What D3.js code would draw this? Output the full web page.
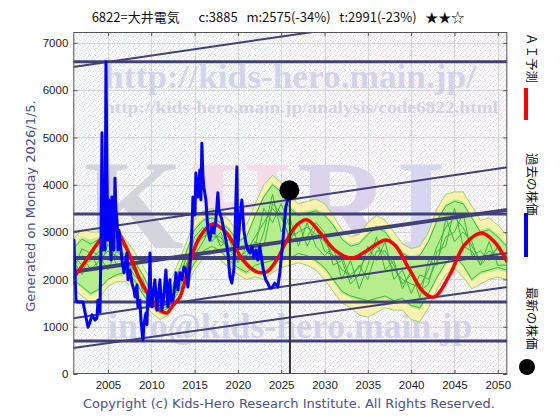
<!DOCTYPE html>
<html>
<head>
<meta charset="utf-8">
<script src="https://cdn.jsdelivr.net/npm/d3@7"></script>
<style>
  body { margin: 0; background: #fff; }
  text { white-space: pre; }
</style>
</head>
<body>
<div class="canvas"></div>
<script>
// ---- data ----
const titleText = '6822=大井電気\u3000  c:3885   m:2575(-34%)   t:2991(-23%)   ★★☆';
const yTicks = [0, 1000, 2000, 3000, 4000, 5000, 6000, 7000];
const xTicks = [2005, 2010, 2015, 2020, 2025, 2030, 2035, 2040, 2045, 2050];

// past price (blue)
const priceYears = [2001.02, 2001.08, 2001.2, 2001.31, 2001.54, 2002.12, 2002.7, 2002.93, 2003.16, 2003.5,
  2003.73, 2003.85, 2004.08, 2004.19, 2004.31, 2004.42, 2004.54, 2004.66, 2004.77, 2004.89,
  2005.0, 2005.12, 2005.23, 2005.35, 2005.46, 2005.58, 2005.69, 2005.81, 2005.92, 2006.04,
  2006.16, 2006.27, 2006.39, 2006.62, 2006.85, 2007.08, 2007.19, 2007.31, 2007.54, 2007.77,
  2008.0, 2008.12, 2008.35, 2008.46, 2008.69, 2008.81, 2008.92, 2009.04, 2009.15, 2009.39,
  2009.5, 2009.62, 2009.73, 2009.85, 2009.96, 2010.08, 2010.19, 2010.42, 2010.65, 2010.77,
  2011.0, 2011.23, 2011.46, 2011.69, 2011.92, 2012.15, 2012.27, 2012.5, 2012.73, 2012.85,
  2013.08, 2013.31, 2013.54, 2013.77, 2014.0, 2014.23, 2014.46, 2014.69, 2014.81, 2015.04,
  2015.15, 2015.38, 2015.61, 2015.73, 2015.84, 2015.96, 2016.07, 2016.31, 2016.42, 2016.54,
  2016.77, 2017.0, 2017.23, 2017.46, 2017.69, 2017.81, 2017.92, 2018.15, 2018.38, 2018.62,
  2018.85, 2019.08, 2019.3, 2019.53, 2019.65, 2019.77, 2019.88, 2020.0, 2020.23, 2020.46,
  2020.69, 2020.92, 2021.15, 2021.38, 2021.61, 2021.84, 2022.07, 2022.3, 2022.53, 2022.76,
  2022.99, 2023.22, 2023.45, 2023.68, 2023.92, 2024.26, 2024.61, 2024.84, 2025.07, 2025.3,
  2025.53, 2025.76, 2025.94];
const priceValues = [1880, 2830, 2090, 1560, 1520, 1520, 990, 1100, 1250, 1140,
  1180, 1560, 1310, 2620, 5100, 2620, 3680, 2620, 6600, 4250,
  2830, 3680, 3110, 2410, 3740, 3110, 2620, 4140, 3470, 3260,
  2620, 3040, 2830, 2410, 2140, 2410, 2560, 1990, 2200, 1920,
  1780, 1630, 1880, 1420, 1560, 1140, 930, 720, 1040, 1290,
  1040, 1710, 1460, 2560, 1560, 1420, 1670, 1990, 1350, 1560,
  1990, 1350, 1670, 2200, 1420, 1990, 1560, 1560, 1880, 2140,
  1780, 2140, 1990, 2260, 2200, 1840, 2260, 3040, 3740, 3360,
  4250, 3740, 4310, 3680, 4880, 4210, 3950, 3680, 3360, 3040,
  2830, 3110, 2980, 3260, 3830, 3470, 3400, 3260, 3040, 2830,
  2560, 2050, 1920, 2200, 2830, 3680, 4380, 2690, 3260, 3680,
  3040, 2770, 2620, 2560, 2690, 2470, 2620, 2410, 2690, 2410,
  2140, 1990, 1920, 1820, 1820, 1920, 1840, 2140, 2560, 3040,
  3530, 3680, 3885];

const latestYear = 2025.94;
const latestPrice = 3885;
const todayYear = 2026.01;

// AI forecast (red)
const predYears = [2001.0, 2002.35, 2004.08, 2005.58, 2006.96, 2008.69, 2009.85, 2011.0, 2011.81, 2012.38,
  2013.31, 2014.46, 2015.61, 2017.1, 2018.7, 2020.57, 2022.18, 2023.34, 2024.61, 2025.65,
  2026.8, 2027.95, 2029.45, 2031.18, 2033.14, 2034.64, 2036.95, 2038.1, 2039.83, 2041.56,
  2042.71, 2044.44, 2046.17, 2048.13, 2049.63, 2051.1];
const predValues = [2030, 2370, 2830, 3110, 2730, 1990, 1630, 1350, 1290, 1420,
  1630, 2370, 2900, 3170, 2980, 2410, 2160, 2160, 2450, 2830,
  3150, 3260, 3000, 2620, 2450, 2580, 2830, 2730, 2200, 1710,
  1630, 2090, 2730, 2980, 2790, 2370];

// pattern band, one value per year 2001..2051
const bandYears = d3.range(2001, 2052);
const yellowHigh = [2850, 3050, 3000, 3000, 3150, 3050, 2850, 2600, 2300, 1950,
  1750, 1850, 2300, 2750, 3250, 3450, 3500, 3400, 3250, 3000,
  3150, 3600, 4000, 4200, 4050, 3750, 3600, 3650, 3700, 3600,
  3350, 3050, 2900, 2950, 3200, 3350, 3250, 3000, 2750, 2650,
  2700, 3000, 3500, 3800, 3850, 3850, 3550, 3250, 3300, 3150, 2950];
const yellowLow = [1800, 1650, 1500, 1600, 1850, 1950, 1950, 1800, 1550, 1300,
  1150, 1250, 1550, 1850, 2200, 2450, 2550, 2400, 2250, 2100,
  2000, 2050, 2000, 2150, 2250, 2300, 2350, 2300, 2200, 2000,
  1750, 1500, 1400, 1250, 1200, 1300, 1400, 1350, 1350, 1150,
  1100, 1400, 1800, 2100, 2250, 2050, 1800, 1900, 2000, 2050, 2000];
const greenHigh = [2700, 2900, 2850, 2900, 3000, 2950, 2700, 2450, 2150, 1800,
  1600, 1700, 2150, 2600, 3100, 3300, 3350, 3250, 3100, 2850,
  2950, 3400, 3800, 4050, 3900, 3550, 3400, 3450, 3500, 3400,
  3200, 2900, 2750, 2800, 3000, 3150, 3050, 2800, 2600, 2500,
  2550, 2850, 3300, 3600, 3700, 3650, 3350, 3050, 3100, 2950, 2750];
const greenLow = [1950, 1800, 1650, 1750, 2000, 2050, 2100, 1950, 1650, 1400,
  1250, 1350, 1650, 1950, 2300, 2550, 2650, 2550, 2350, 2200,
  2100, 2200, 2150, 2300, 2450, 2400, 2500, 2450, 2350, 2200,
  1950, 1700, 1600, 1550, 1500, 1550, 1600, 1500, 1550, 1400,
  1350, 1650, 2000, 2300, 2450, 2250, 1950, 2100, 2150, 2200, 2150];

// similar past patterns (thin green)
const patternA = [2650, 2850, 2750, 2850, 2900, 2900, 2650, 2400, 2100, 1750, 1550, 1650, 2100, 2550, 3050, 3250, 3300, 3200, 3050, 2800, 2900, 3350, 3750, 4000, 3850, 3500, 3350, 3400, 3450, 3350, 3150, 2850, 2700, 2750, 2950, 3100, 3000, 2750, 2550, 2450, 2500, 2800, 3250, 3550, 3650, 3600, 3300, 3000, 3050, 2900, 2700];
const patternB = [2000, 1850, 1700, 1800, 2000, 2100, 2150, 2000, 1700, 1450, 1300, 1400, 1700, 2000, 2350, 2600, 2700, 2600, 2400, 2250, 2150, 2300, 2350, 2400, 2500, 2450, 2550, 2500, 2400, 2250, 2000, 1750, 1650, 1600, 1550, 1600, 1650, 1550, 1600, 1450, 1400, 1700, 2050, 2350, 2500, 2300, 2000, 2150, 2200, 2250, 2200];
const patternC = [2300, 2500, 2200, 2400, 2600, 2500, 2350, 2200, 1850, 1600, 1400, 1500, 1900, 2300, 2700, 2900, 3000, 2800, 2700, 2450, 2600, 2900, 3200, 3500, 3300, 2900, 3000, 3100, 2950, 2800, 2500, 2200, 2100, 2250, 2500, 2700, 2500, 2200, 2000, 1900, 1850, 2200, 2700, 3100, 3300, 3100, 2700, 2400, 2600, 2500, 2400];
const patternD = [2500, 2300, 2400, 2600, 2400, 2700, 2500, 2200, 2000, 1550, 1450, 1600, 2000, 2200, 2900, 3100, 2800, 3000, 2500, 2600, 2400, 2700, 3500, 3200, 3600, 3100, 2800, 2900, 3200, 3000, 2300, 2400, 1900, 2100, 2700, 2400, 2800, 2000, 2200, 1700, 2100, 2000, 2400, 2900, 3000, 3400, 2500, 2600, 2400, 2700, 2500];
const patternE = [2200, 2650, 2550, 2200, 2750, 2300, 2250, 2400, 1750, 1650, 1350, 1450, 1800, 2450, 2500, 2800, 3150, 2700, 2850, 2350, 2700, 2500, 3000, 3800, 3000, 3300, 2700, 3200, 2700, 2500, 2700, 2000, 2400, 1800, 2300, 2900, 2200, 2400, 1800, 2200, 1600, 2400, 2300, 3300, 2800, 3000, 2800, 2300, 2800, 2300, 2300];
const patternF = [2400, 2100, 2600, 2500, 2200, 2600, 2400, 2100, 1900, 1500, 1400, 1550, 1750, 2100, 2600, 3000, 2900, 2900, 2600, 2500, 2500, 2800, 2700, 3600, 3400, 2800, 3200, 2700, 3100, 2600, 2500, 2500, 2000, 2300, 2000, 2600, 2600, 2300, 1900, 2100, 1750, 1900, 2600, 2700, 3500, 2700, 2600, 2300, 2500, 2650, 2350];

// support / resistance levels and trend channel
const levels = [6600, 3380, 2450, 1520, 700];
const channelYears = [2001, 2051.1];
const channelStart = [6490, 3000, 2160, 1180, 550];
const channelEnd = [7830, 4370, 3470, 2560, 1840];

// ---- drawing ----
const dims = { width: 560, height: 420 };
const plot = { left: 73.3, right: 507.3, top: 32, bottom: 374 };

const svg = d3.select('.canvas')
    .append('svg')
    .attr('width', dims.width)
    .attr('height', dims.height)
    .style('font-family', '"Liberation Sans", Arial, sans-serif');

const x = d3.scaleLinear().domain([2001, 2051.1]).range([plot.left, plot.right]);
const y = d3.scaleLinear().domain([0, 7230]).range([plot.bottom, plot.top]);

const defs = svg.append('defs');
defs.append('clipPath').attr('id', 'clip')
  .append('rect')
    .attr('x', plot.left).attr('y', plot.top)
    .attr('width', plot.right - plot.left).attr('height', plot.bottom - plot.top);

// speckled backgrounds
const makeDots = (id, cols) => {
  const p = defs.append('pattern').attr('id', id)
      .attr('width', 5).attr('height', 5).attr('patternUnits', 'userSpaceOnUse');
  p.append('rect').attr('width', 5).attr('height', 5).attr('fill', '#fbfbfb');
  const spots = [[0, 0], [3, 1], [1, 3], [4, 4], [2, 2]];
  spots.forEach((s, i) => {
    p.append('rect').attr('x', s[0]).attr('y', s[1]).attr('width', 1).attr('height', 1)
      .attr('fill', cols[i % cols.length]);
  });
};
makeDots('dotsPast', ['#c6e6ea', '#e6d2e2', '#d0e6d8', '#dcdcf0', '#e8e8e8']);
makeDots('dotsFuture', ['#f0c6de', '#e2d2ee', '#f4d8e8', '#d8e2f0', '#ece0ec']);

svg.append('rect')
    .attr('x', plot.left).attr('y', plot.top)
    .attr('width', x(todayYear) - plot.left).attr('height', plot.bottom - plot.top)
    .attr('fill', 'url(#dotsPast)');
svg.append('rect')
    .attr('x', x(todayYear)).attr('y', plot.top)
    .attr('width', plot.right - x(todayYear)).attr('height', plot.bottom - plot.top)
    .attr('fill', 'url(#dotsFuture)');

// grid
const grid = svg.append('g').attr('stroke', '#d6d6d6').attr('stroke-width', 1);
grid.selectAll('.gy').data(yTicks.slice(1)).enter().append('line')
    .attr('x1', plot.left).attr('x2', plot.right)
    .attr('y1', d => Math.round(y(d)) + 0.5).attr('y2', d => Math.round(y(d)) + 0.5);
grid.selectAll('.gx').data(xTicks).enter().append('line')
    .attr('y1', plot.top).attr('y2', plot.bottom)
    .attr('x1', d => Math.round(x(d)) + 0.5).attr('x2', d => Math.round(x(d)) + 0.5);

const graph = svg.append('g').attr('clip-path', 'url(#clip)');

// watermarks
const serif = '"Liberation Serif", "DejaVu Serif", serif';
graph.append('text')
    .attr('x', 104).attr('y', 88)
    .attr('textLength', 372).attr('lengthAdjust', 'spacingAndGlyphs')
    .attr('font-family', serif).attr('font-weight', 'bold').attr('font-size', 34)
    .attr('fill', '#c8c8e8').attr('opacity', 0.75)
    .text('http://kids-hero.main.jp/');
graph.append('text')
    .attr('x', 104).attr('y', 113)
    .attr('textLength', 394).attr('lengthAdjust', 'spacingAndGlyphs')
    .attr('font-family', serif).attr('font-weight', 'bold').attr('font-size', 16)
    .attr('fill', '#c8c8e8').attr('opacity', 0.75)
    .text('http://kids-hero.main.jp/analysis/code6822.html');
const khri = graph.append('text')
    .attr('x', 84).attr('y', 248)
    .attr('textLength', 362).attr('lengthAdjust', 'spacing')
    .attr('font-family', serif).attr('font-weight', 'bold').attr('font-size', 128);
[['K', '#d4d4dc'], ['H', '#f4dcea'], ['R', '#dcd2ec'], ['I', '#d6d6f0']].forEach(d => {
  khri.append('tspan').attr('fill', d[1]).text(d[0]);
});
graph.append('text')
    .attr('x', 108).attr('y', 338)
    .attr('textLength', 364).attr('lengthAdjust', 'spacingAndGlyphs')
    .attr('font-family', serif).attr('font-weight', 'bold').attr('font-size', 36)
    .attr('fill', '#c8c8e8').attr('opacity', 0.75)
    .text('info@kids-hero.main.jp');

// bands
const bandArea = (hi, lo) => d3.area()
    .x((d, i) => x(bandYears[i]))
    .y0((d, i) => y(lo[i]))
    .y1((d, i) => y(hi[i]))
    .curve(d3.curveLinear);
graph.append('path').datum(yellowHigh)
    .attr('fill', '#faf2ac')
    .attr('d', bandArea(yellowHigh, yellowLow));
graph.append('path').datum(greenHigh)
    .attr('fill', '#b6ee8e')
    .attr('d', bandArea(greenHigh, greenLow));

const bandLine = d3.line().x((d, i) => x(bandYears[i])).y(d => y(d));
graph.selectAll('.pattern')
    .data([patternA, patternB, patternC, patternD, patternE, patternF])
    .enter().append('path')
    .attr('class', 'pattern')
    .attr('fill', 'none')
    .attr('stroke', '#3cb43c')
    .attr('stroke-width', 1)
    .attr('d', bandLine);
graph.selectAll('.edge')
    .data([yellowHigh, yellowLow])
    .enter().append('path')
    .attr('class', 'edge')
    .attr('fill', 'none')
    .attr('stroke', '#7ccc5c')
    .attr('stroke-width', 0.8)
    .attr('d', bandLine);

// levels and channel
graph.selectAll('.level').data(levels).enter().append('line')
    .attr('class', 'level')
    .attr('x1', plot.left).attr('x2', plot.right)
    .attr('y1', d => y(d)).attr('y2', d => y(d))
    .attr('stroke', '#40407a')
    .attr('stroke-width', (d, i) => i === 2 ? 4 : 3);
graph.selectAll('.channel').data(channelStart).enter().append('line')
    .attr('class', 'channel')
    .attr('x1', x(channelYears[0])).attr('x2', x(channelYears[1]))
    .attr('y1', d => y(d)).attr('y2', (d, i) => y(channelEnd[i]))
    .attr('stroke', '#40407a')
    .attr('stroke-width', (d, i) => i === 2 ? 4 : 2);

// forecast
graph.append('path').datum(predValues)
    .attr('fill', 'none')
    .attr('stroke', '#ff0000')
    .attr('stroke-width', 3.5)
    .attr('stroke-linejoin', 'round')
    .attr('d', d3.line().x((d, i) => x(predYears[i])).y(d => y(d)).curve(d3.curveCatmullRom));

// past price
graph.append('path').datum(priceValues)
    .attr('fill', 'none')
    .attr('stroke', '#0000ff')
    .attr('stroke-width', 3)
    .attr('stroke-linejoin', 'round')
    .attr('d', d3.line().x((d, i) => x(priceYears[i])).y(d => y(d)));

// today marker
graph.append('line')
    .attr('x1', x(todayYear)).attr('x2', x(todayYear))
    .attr('y1', y(latestPrice)).attr('y2', plot.bottom)
    .attr('stroke', '#333').attr('stroke-width', 2);
graph.append('circle')
    .attr('cx', x(latestYear)).attr('cy', y(latestPrice)).attr('r', 10)
    .attr('fill', '#000');

// axes (ticks pointing inwards)
const axisStyle = g => {
  g.select('.domain').remove();
  g.selectAll('.tick line').attr('stroke', '#555');
  g.selectAll('.tick text').attr('fill', '#222').attr('font-size', 11.5)
    .attr('font-family', '"Liberation Sans", Arial, sans-serif');
};
svg.append('g').attr('transform', `translate(${plot.left},0)`)
    .call(d3.axisLeft(y).tickValues(yTicks).tickSize(-4).tickPadding(5).tickFormat(d3.format('d'))).call(axisStyle);
svg.append('g').attr('transform', `translate(${plot.right},0)`)
    .call(d3.axisRight(y).tickValues(yTicks).tickSize(-4).tickFormat('')).call(axisStyle);
svg.append('g').attr('transform', `translate(0,${plot.bottom})`)
    .call(d3.axisBottom(x).tickValues(xTicks).tickSize(-4).tickPadding(7).tickFormat(d3.format('d'))).call(axisStyle);
svg.append('g').attr('transform', `translate(0,${plot.top})`)
    .call(d3.axisTop(x).tickValues(xTicks).tickSize(-4).tickFormat('')).call(axisStyle);

svg.append('rect')
    .attr('x', plot.left + 0.5).attr('y', plot.top + 0.5)
    .attr('width', plot.right - plot.left - 1).attr('height', plot.bottom - plot.top - 1)
    .attr('fill', 'none').attr('stroke', '#555');

// title
svg.append('text')
    .attr('x', 278).attr('y', 22)
    .attr('text-anchor', 'middle')
    .attr('font-family', '"Noto Sans CJK JP", sans-serif')
    .attr('font-size', 13)
    .attr('fill', '#111')
    .text(titleText);

// left note
svg.append('text')
    .attr('transform', 'translate(35,206) rotate(-90)')
    .attr('text-anchor', 'middle')
    .attr('font-family', '"DejaVu Sans", sans-serif')
    .attr('font-size', 13)
    .attr('fill', '#4c4c8c')
    .text('Generated on Monday 2026/1/5.');

// copyright
svg.append('text')
    .attr('x', 289).attr('y', 408)
    .attr('text-anchor', 'middle')
    .attr('font-family', '"DejaVu Sans", sans-serif')
    .attr('font-size', 13)
    .attr('fill', '#50508c')
    .text('Copyright (c) Kids-Hero Research Institute. All Rights Reserved.');

// legend on the right
const legendItems = [
  { label: 'ＡＩ予測', top: 33, colour: '#ff0000', kind: 'bar', markTop: 88, markBottom: 120 },
  { label: '過去の株価', top: 153, colour: '#0000ff', kind: 'bar', markTop: 213, markBottom: 257 },
  { label: '最新の株価', top: 287, colour: '#000', kind: 'dot', markTop: 367 }
];
const legend = svg.append('g');
legendItems.forEach(d => {
  legend.append('text')
      .attr('transform', `translate(527,${d.top}) rotate(90)`)
      .attr('font-family', '"Noto Sans CJK JP", sans-serif')
      .attr('font-size', 12.5)
      .attr('fill', '#111')
      .text(d.label);
  if (d.kind === 'bar') {
    legend.append('line')
        .attr('x1', 526).attr('x2', 526)
        .attr('y1', d.markTop).attr('y2', d.markBottom)
        .attr('stroke', d.colour).attr('stroke-width', 4);
  } else {
    legend.append('circle').attr('cx', 527).attr('cy', d.markTop).attr('r', 8).attr('fill', d.colour);
  }
});
</script>
</body>
</html>
